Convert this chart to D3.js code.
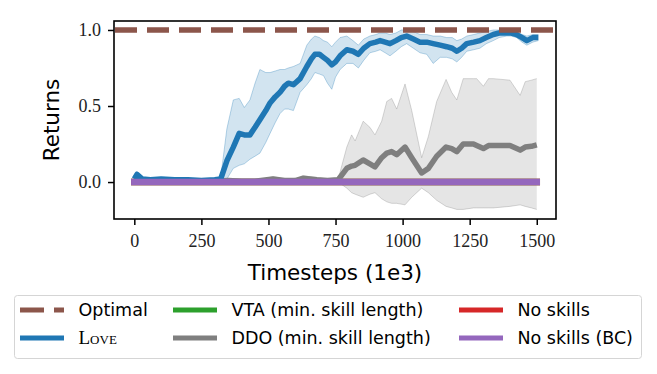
<!DOCTYPE html>
<html>
<head>
<meta charset="utf-8">
<script src="https://cdn.jsdelivr.net/npm/d3@7"></script>
<style>
    body { margin: 0; background: #fff; }
    svg { display: block; }
</style>
</head>
<body>
<svg id="chart" width="657" height="374"></svg>
<script>
"use strict";

// LOVE: mean return and shaded band
let loveT = [0, 10, 30, 60, 100, 150, 200, 250, 300, 322, 345, 369, 391, 410, 431, 450, 468, 490, 506, 525, 543, 560, 574, 593, 618, 643, 660, 673, 690, 705, 720, 736, 750, 767, 792, 815, 835, 855, 878, 900, 916, 935, 953, 975, 995, 1015, 1040, 1065, 1090, 1114, 1140, 1164, 1185, 1202, 1220, 1239, 1265, 1288, 1312, 1338, 1360, 1388, 1405, 1425, 1445, 1463, 1485, 1506];
let loveMean = [0.02, 0.05, 0.02, 0.015, 0.02, 0.015, 0.015, 0.01, 0.015, 0.02, 0.14, 0.23, 0.32, 0.31, 0.31, 0.36, 0.41, 0.47, 0.52, 0.56, 0.59, 0.63, 0.65, 0.64, 0.68, 0.76, 0.81, 0.84, 0.84, 0.82, 0.80, 0.77, 0.79, 0.83, 0.87, 0.86, 0.84, 0.88, 0.91, 0.92, 0.93, 0.92, 0.91, 0.93, 0.95, 0.96, 0.94, 0.92, 0.92, 0.91, 0.90, 0.89, 0.88, 0.86, 0.88, 0.91, 0.92, 0.93, 0.95, 0.97, 0.98, 0.98, 0.98, 0.97, 0.95, 0.93, 0.95, 0.95];
let loveHi = [0.03, 0.07, 0.03, 0.025, 0.03, 0.025, 0.025, 0.02, 0.025, 0.03, 0.35, 0.54, 0.55, 0.49, 0.54, 0.65, 0.74, 0.72, 0.72, 0.73, 0.74, 0.74, 0.75, 0.76, 0.78, 0.90, 0.94, 0.96, 0.95, 0.93, 0.92, 0.89, 0.92, 0.95, 0.96, 0.93, 0.90, 0.94, 0.96, 0.97, 0.98, 0.98, 0.97, 0.98, 1.0, 1.0, 0.99, 0.97, 0.97, 0.96, 0.96, 0.95, 0.95, 0.93, 0.94, 0.96, 0.97, 0.98, 0.99, 1.0, 1.0, 1.0, 1.0, 0.99, 0.97, 0.96, 0.97, 0.97];
let loveLo = [0.005, 0.02, 0.01, 0.005, 0.01, 0.005, 0.005, 0.0, 0.005, 0.005, 0.02, 0.09, 0.11, 0.12, 0.15, 0.17, 0.19, 0.26, 0.32, 0.39, 0.45, 0.48, 0.48, 0.47, 0.59, 0.64, 0.68, 0.72, 0.71, 0.70, 0.65, 0.61, 0.69, 0.74, 0.78, 0.78, 0.75, 0.80, 0.85, 0.86, 0.87, 0.85, 0.83, 0.86, 0.89, 0.91, 0.88, 0.85, 0.84, 0.78, 0.82, 0.82, 0.81, 0.79, 0.82, 0.86, 0.87, 0.88, 0.91, 0.93, 0.95, 0.96, 0.96, 0.95, 0.92, 0.90, 0.92, 0.93];

// DDO (min. skill length)
let ddoT = [0, 100, 200, 300, 350, 400, 450, 517, 560, 600, 630, 680, 720, 760, 792, 810, 823, 853, 878, 897, 922, 941, 959, 978, 1009, 1034, 1071, 1096, 1127, 1162, 1183, 1202, 1226, 1264, 1276, 1301, 1320, 1338, 1400, 1438, 1457, 1480, 1500];
let ddoMean = [0.005, 0.005, 0.005, 0.005, 0.01, 0.005, 0.005, 0.02, 0.01, 0.01, 0.025, 0.015, 0.01, 0.015, 0.09, 0.105, 0.11, 0.145, 0.12, 0.10, 0.16, 0.19, 0.20, 0.18, 0.23, 0.16, 0.06, 0.09, 0.17, 0.23, 0.22, 0.20, 0.25, 0.25, 0.24, 0.22, 0.24, 0.24, 0.24, 0.21, 0.23, 0.235, 0.245];
let ddoHi = [0.01, 0.01, 0.01, 0.01, 0.02, 0.01, 0.01, 0.035, 0.02, 0.02, 0.04, 0.03, 0.02, 0.02, 0.23, 0.31, 0.27, 0.40, 0.36, 0.31, 0.40, 0.53, 0.55, 0.48, 0.645, 0.47, 0.16, 0.30, 0.53, 0.675, 0.59, 0.54, 0.68, 0.68, 0.68, 0.63, 0.68, 0.68, 0.67, 0.57, 0.66, 0.67, 0.68];
let ddoLo = [0.0, 0.0, 0.0, 0.0, 0.0, 0.0, 0.0, 0.005, 0.0, 0.0, 0.005, 0.0, 0.0, 0.0, -0.04, -0.07, -0.08, -0.10, -0.08, -0.07, -0.11, -0.13, -0.14, -0.14, -0.15, -0.10, -0.04, -0.07, -0.12, -0.16, -0.17, -0.18, -0.18, -0.17, -0.17, -0.17, -0.17, -0.17, -0.16, -0.15, -0.16, -0.17, -0.18];

// flat baselines (all at zero)
let flatT = [0, 1500];
let vtaVals = [0, 0];
let noSkillVals = [0, 0];
let bcVals = [0, 0];
let optimalValue = 1.0;

let xTicks = [0, 250, 500, 750, 1000, 1250, 1500];
let yTicks = [0.0, 0.5, 1.0];

let legendRows = [
    [{ label: "Optimal", color: "#8c564b", dash: true }, { label: "VTA (min. skill length)", color: "#2ca02c" }, { label: "No skills", color: "#d62728" }],
    [{ label: "Love", color: "#1f77b4", caps: true }, { label: "DDO (min. skill length)", color: "#7f7f7f" }, { label: "No skills (BC)", color: "#9467bd" }]
];

let svg = d3.select("#chart");

let margin = { left: 114, right: 556, top: 21, bottom: 219 };

let x = d3.scaleLinear()
    .domain([-75.7, 1571.7])
    .range([margin.left, margin.right]);

let y = d3.scaleLinear()
    .domain([-0.243, 1.059])
    .range([margin.bottom, margin.top]);

function zipSeries(ts, vals) {
    return ts.map((t, i) => ({ t: t, v: vals[i] }));
}

function bandSeries(ts, lo, hi) {
    return ts.map((t, i) => ({ t: t, lo: lo[i], hi: hi[i] }));
}

let line = d3.line()
    .x(d => x(d.t))
    .y(d => y(d.v));

let area = d3.area()
    .x(d => x(d.t))
    .y0(d => y(d.lo))
    .y1(d => y(d.hi));

let plot = svg.append("g");

// shaded bands
function drawBand(ts, lo, hi, color) {
    let data = bandSeries(ts, lo, hi);
    plot.append("path")
        .attr("d", area(data))
        .style("fill", color)
        .style("fill-opacity", 0.2)
        .style("stroke", "none");
    plot.append("path")
        .attr("d", line(zipSeries(ts, hi)))
        .style("fill", "none")
        .style("stroke", color)
        .style("stroke-opacity", 0.3)
        .style("stroke-width", 1);
    plot.append("path")
        .attr("d", line(zipSeries(ts, lo)))
        .style("fill", "none")
        .style("stroke", color)
        .style("stroke-opacity", 0.3)
        .style("stroke-width", 1);
}

drawBand(ddoT, ddoLo, ddoHi, "#7f7f7f");
drawBand(loveT, loveLo, loveHi, "#1f77b4");

function drawLine(ts, vals, color, width, cap) {
    plot.append("path")
        .attr("d", line(zipSeries(ts, vals)))
        .style("fill", "none")
        .style("stroke", color)
        .style("stroke-width", width)
        .style("stroke-linejoin", "round")
        .style("stroke-linecap", cap || "butt");
}

drawLine(flatT, vtaVals, "#2ca02c", 6.5, "square");
drawLine(flatT, noSkillVals, "#d62728", 6.5, "square");
drawLine(ddoT, ddoMean, "#7f7f7f", 5.5);
drawLine(loveT, loveMean, "#1f77b4", 5.5);
drawLine(flatT, bcVals, "#9467bd", 6.5, "square");

// optimal line spans the whole axes
plot.append("line")
    .attr("x1", margin.left + 1)
    .attr("x2", margin.right)
    .attr("y1", y(optimalValue))
    .attr("y2", y(optimalValue))
    .style("stroke", "#8c564b")
    .style("stroke-width", 5.5)
    .style("stroke-dasharray", "22,10");

// axes
let xAxis = svg.append("g")
    .attr("transform", "translate(0," + margin.bottom + ")")
    .call(d3.axisBottom(x).tickValues(xTicks).tickSize(6).tickSizeOuter(0).tickPadding(9).tickFormat(d3.format("d")));

let yAxis = svg.append("g")
    .attr("transform", "translate(" + margin.left + ",0)")
    .call(d3.axisLeft(y).tickValues(yTicks).tickSize(6).tickSizeOuter(0).tickPadding(7).tickFormat(d3.format(".1f")));

[xAxis, yAxis].forEach(function(g) {
    g.select(".domain").remove();
    g.selectAll(".tick line").style("stroke", "#000").style("stroke-width", 1.5);
    g.selectAll(".tick text")
        .style("font-family", "'Liberation Serif', serif")
        .style("font-size", "18px")
        .style("fill", "#222");
});

// frame
svg.append("rect")
    .attr("x", margin.left)
    .attr("y", margin.top)
    .attr("width", margin.right - margin.left)
    .attr("height", margin.bottom - margin.top)
    .style("fill", "none")
    .style("stroke", "#000")
    .style("stroke-width", 1.6);

// axis labels
svg.append("text")
    .attr("x", (margin.left + margin.right) / 2)
    .attr("y", 280)
    .attr("text-anchor", "middle")
    .style("font-family", "'DejaVu Sans', sans-serif")
    .style("font-size", "21.5px")
    .text("Timesteps (1e3)");

svg.append("text")
    .attr("transform", "translate(59,120) rotate(-90)")
    .attr("text-anchor", "middle")
    .style("font-family", "'DejaVu Sans', sans-serif")
    .style("font-size", "21.5px")
    .text("Returns");

// legend
let legend = svg.append("g");

legend.append("rect")
    .attr("x", 14.5)
    .attr("y", 295.5)
    .attr("width", 627)
    .attr("height", 63)
    .attr("rx", 3)
    .style("fill", "#fff")
    .style("stroke", "#d5d5d5")
    .style("stroke-width", 1);

let colX = [20, 173, 459];
let rowY = [310, 338];

legendRows.forEach(function(row, r) {
    row.forEach(function(item, c) {
        let hx = colX[c];
        let hy = rowY[r];
        legend.append("line")
            .attr("x1", hx)
            .attr("x2", hx + 44)
            .attr("y1", hy)
            .attr("y2", hy)
            .style("stroke", item.color)
            .style("stroke-width", 5)
            .style("stroke-dasharray", item.dash ? "24,10" : null);

        let label = legend.append("text")
            .attr("x", hx + 58.5)
            .attr("y", hy + 6)
            .text(item.label);
        if (item.caps) {
            label.style("font-family", "'Liberation Serif', serif")
                .style("font-size", "19px")
                .style("font-variant", "small-caps");
        } else {
            label.style("font-family", "'DejaVu Sans', sans-serif")
                .style("font-size", "17.5px");
        }
    });
});
</script>
</body>
</html>
